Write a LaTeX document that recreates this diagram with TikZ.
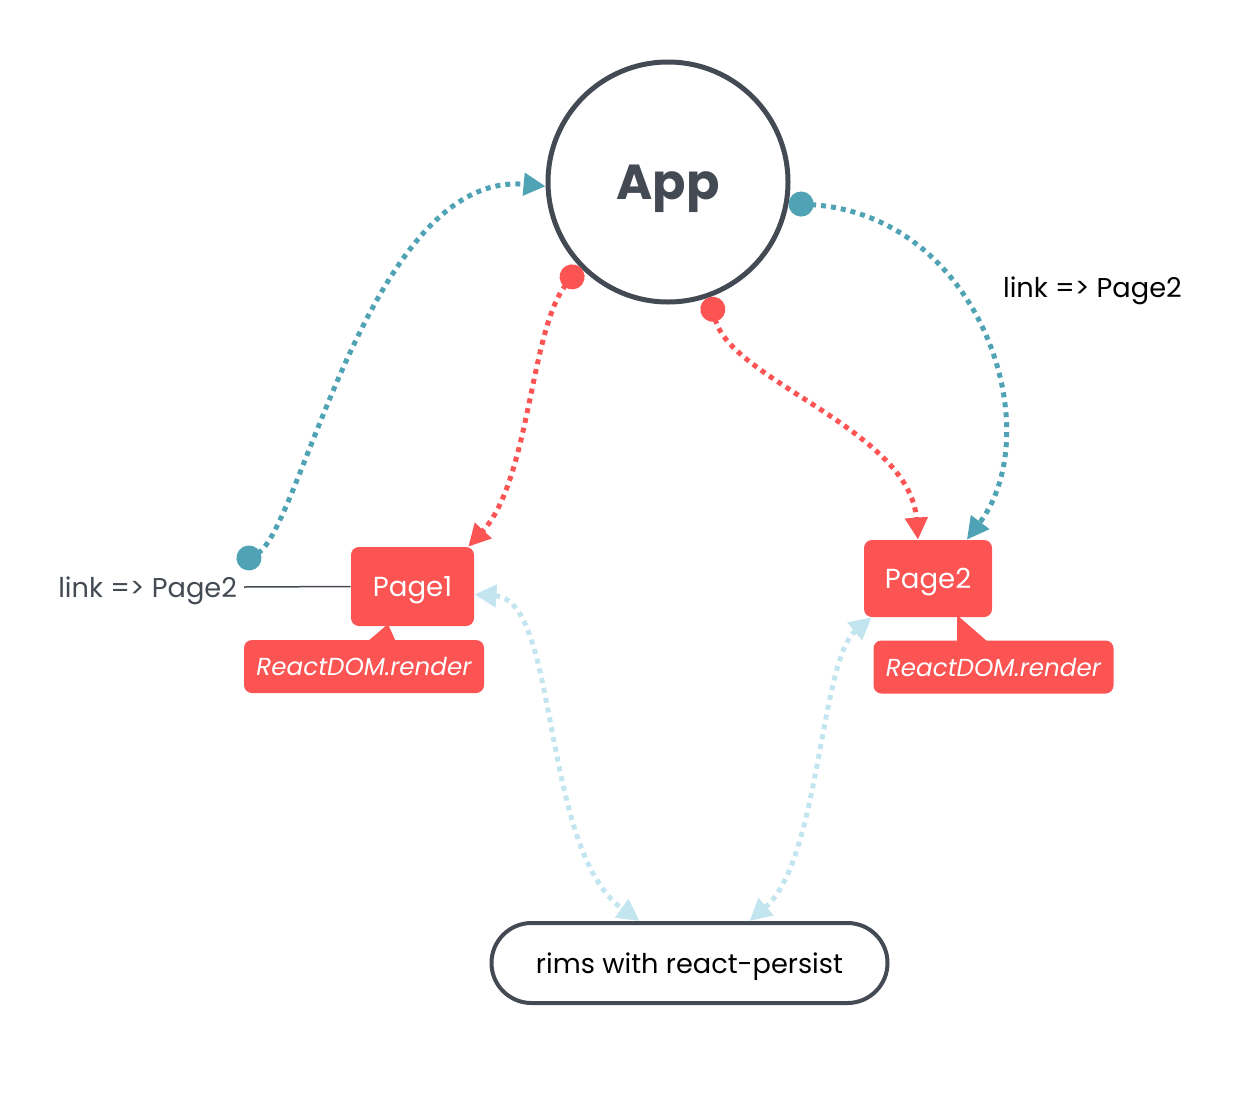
\documentclass[tikz,border=0pt]{standalone}
\usepackage{fontspec}
\setmainfont{Poppins}
\usetikzlibrary{arrows.meta}
\definecolor{cteal}{RGB}{79,163,180}
\definecolor{cred}{RGB}{252,83,83}
\definecolor{clight}{RGB}{194,229,240}
\definecolor{cgray}{RGB}{67,74,84}

\begin{document}
\begin{tikzpicture}[x=0.5pt, y=-0.5pt,
    page/.style={fill=cred, rounded corners=4pt, text=white, inner sep=0pt, text depth=0pt,
        font=\fontsize{13.8}{15}\selectfont},
    render/.style={fill=cred, rounded corners=4pt, text=white, inner sep=0pt, text depth=0pt,
        minimum width=120pt, minimum height=26.5pt, font=\itshape\fontsize{12.3}{14}\selectfont},
    flow/.style={line width=2.5pt, dash pattern=on 2.5pt off 2.5pt},
    dotarrow/.style={{Circle[length=12.5pt]}-{Triangle[length=11pt, width=11pt]}},
    both/.style={{Triangle[length=11pt, width=11pt]}-{Triangle[length=11pt, width=11pt]}},
    linklabel/.style={text depth=0pt, font=\fontsize{13.6}{15}\selectfont}]

\useasboundingbox (0, 0) rectangle (1248, 1098);

% app
\node [circle, draw=cgray, line width=2.5pt, minimum size=120pt, text=cgray, text depth=0pt,
    font=\bfseries\fontsize{24.6}{28}\selectfont] (app) at (668, 182) {App};

% pages
\node [page, minimum width=61.5pt, minimum height=39.5pt] (page1) at (412.5, 586.5) {Page1};
\node [page, minimum width=64pt, minimum height=38.5pt] (page2) at (928, 578.5) {Page2};

% render callouts
\node [render] (render1) at (364, 666.5) {ReactDOM.render};
\node [render] (render2) at (993.5, 667) {ReactDOM.render};
\fill [cred] (367, 642) -- (388, 624) -- (396, 642) -- cycle;
\fill [cred] (957, 615) -- (957, 642) -- (988, 642) -- cycle;

% store
\node [draw=cgray, line width=2pt, rounded corners=20pt, minimum width=198pt, text depth=0pt,
    minimum height=40pt, font=\fontsize{13.6}{15}\selectfont] (store) at (689.5, 963) {rims with react-persist};

% link labels
\node [linklabel, text=cgray, anchor=east] (linkL) at (244, 587) {link => Page2};
\draw [cgray, line width=0.75pt] (linkL.east) -- (page1.west);
\node [linklabel, anchor=west] (linkR) at (996, 287) {link => Page2};

% teal links
\coordinate (tealstart) at (238, 564);
\draw [flow, cteal, dotarrow] (tealstart) .. controls (300, 530) and (370, 170) .. (app.182);
\draw [flow, cteal, dotarrow] (app.-10) .. controls (980, 215) and (1050, 430) .. (page2.45);

% red renders
\draw [flow, cred, dotarrow] (app.224) .. controls (530, 330) and (530, 480) .. ([xshift=-3pt]page1.north east);
\draw [flow, cred, dotarrow] (app.290) .. controls (730, 380) and (910, 430) .. ([xshift=-5pt]page2.north);

% persist
\draw [flow, clight, both] ([yshift=-4pt]page1.east) .. controls (560, 600) and (540, 850) .. ([xshift=-25pt]store.north);
\draw [flow, clight, both] ([xshift=4pt]page2.south west) .. controls (820, 660) and (820, 860) .. ([xshift=30pt]store.north);

\end{tikzpicture}
\end{document}
